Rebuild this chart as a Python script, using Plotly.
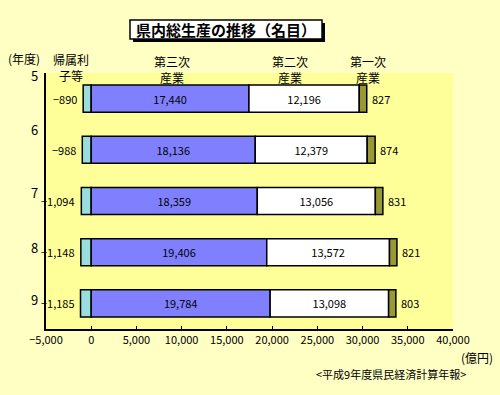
import plotly.graph_objects as go

years = ["5", "6", "7", "8", "9"]
interest = [-890, -988, -1094, -1148, -1185]
tertiary = [17440, 18136, 18359, 19406, 19784]
secondary = [12196, 12379, 13056, 13572, 13098]
primary = [827, 874, 831, 821, 803]
x_ticks = list(range(-5000, 40001, 5000))

FONT = "Noto Sans CJK JP"
W, H = 500, 395
ML, MR, MT, MB = 46, 47, 73, 66
PW, PH = W - ML - MR, H - MT - MB


def px(x):
    return (x - ML) / PW


def py(y):
    return (H - MB - y) / PH


line = dict(color="black", width=1.5)
tf = dict(family=FONT, size=11, color="black")
fig = go.Figure()
fig.add_trace(go.Bar(y=years, x=interest, orientation="h", marker=dict(color="#99DDDD", line=line),
                     width=0.53, hoverinfo="x"))
fig.add_trace(go.Bar(y=years, x=tertiary, orientation="h", marker=dict(color="#8080FF", line=line),
                     width=0.53, text=[f"{v:,}" for v in tertiary], textposition="inside",
                     insidetextanchor="middle", textangle=0, textfont=tf, insidetextfont=tf))
fig.add_trace(go.Bar(y=years, x=secondary, orientation="h", marker=dict(color="#FFFFFF", line=line),
                     width=0.53, text=[f"{v:,}" for v in secondary], textposition="inside",
                     insidetextanchor="middle", textangle=0, textfont=tf, insidetextfont=tf))
fig.add_trace(go.Bar(y=years, x=primary, orientation="h", marker=dict(color="#999933", line=line),
                     width=0.53))

ann = []
for i, y in enumerate(years):
    ann.append(dict(x=interest[i], y=i, xref="x", yref="y", text=f"{interest[i]:,}".replace("-", "−"),
                    showarrow=False, xanchor="right", xshift=-4, font=tf))
    total = tertiary[i] + secondary[i] + primary[i]
    ann.append(dict(x=total, y=i, xref="x", yref="y", text=f"{primary[i]:,}",
                    showarrow=False, xanchor="left", xshift=3, font=tf))

# category labels (year) sit above each band, as in the original (pixel offsets upward)
label_lift = [23, 20, 9, 5, 4]
for i, y in enumerate(years):
    ann.append(dict(x=-0.015, xref="paper", y=i, yref="y", text=y, showarrow=False,
                    xanchor="right", yshift=label_lift[i],
                    font=dict(family=FONT, size=13, color="black")))

headers = [("(年度)", 24, 58), ("帰属利<br>子等", 71, 67), ("第三次<br>産業", 172, 69),
           ("第二次<br>産業", 290, 69), ("第一次<br>産業", 368, 69)]
for t, x, y in headers:
    ann.append(dict(x=px(x), y=py(y), xref="paper", yref="paper", text=t, showarrow=False,
                    xanchor="center", yanchor="middle",
                    font=dict(family=FONT, size=12, color="black")))

ann.append(dict(x=px(477), y=py(357), xref="paper", yref="paper", text="(億円)", showarrow=False,
                xanchor="center", yanchor="middle", font=dict(family=FONT, size=12, color="black")))
ann.append(dict(x=px(468), y=py(374), xref="paper", yref="paper", text="&lt;平成9年度県民経済計算年報&gt;",
                showarrow=False, xanchor="right", yanchor="middle",
                font=dict(family=FONT, size=11, color="black")))
ann.append(dict(x=px(226), y=py(29.5), xref="paper", yref="paper", text="<b>県内総生産の推移（名目）</b>",
                showarrow=False, xanchor="center", yanchor="middle",
                font=dict(family=FONT, size=15, color="black")))

shapes = [
    dict(type="rect", xref="paper", yref="paper", x0=px(133), x1=px(325), y0=py(42), y1=py(23),
         fillcolor="black", line=dict(width=0), layer="above"),
    dict(type="rect", xref="paper", yref="paper", x0=px(130), x1=px(322), y0=py(39), y1=py(20),
         fillcolor="white", line=dict(color="black", width=1.5), layer="above"),
]

fig.update_layout(
    width=W, height=H, margin=dict(l=ML, r=MR, t=MT, b=MB, autoexpand=False),
    barmode="relative", showlegend=False,
    paper_bgcolor="#FFFFC4", plot_bgcolor="#FFFF99",
    font=dict(family=FONT, size=11, color="black"),
    annotations=ann, shapes=shapes,
    xaxis=dict(range=[-5000, 40000], tickvals=x_ticks, ticktext=[f"{v:,}".replace("-", "−") for v in x_ticks],
               ticks="inside", ticklen=3, tickcolor="black", showline=True, linecolor="black", linewidth=1.5,
               showgrid=False, zeroline=False, tickfont=dict(family=FONT, size=11), fixedrange=True),
    yaxis=dict(type="category", categoryorder="array", categoryarray=years, range=[4.5, -0.5],
               showticklabels=False, showline=True, linecolor="black", linewidth=1.5, showgrid=False,
               ticks="", zeroline=False, fixedrange=True),
)
fig.write_html("out.html", config={"displayModeBar": False},
               post_script="document.body.style.margin='0';document.body.style.background='#FFFFC4';")
